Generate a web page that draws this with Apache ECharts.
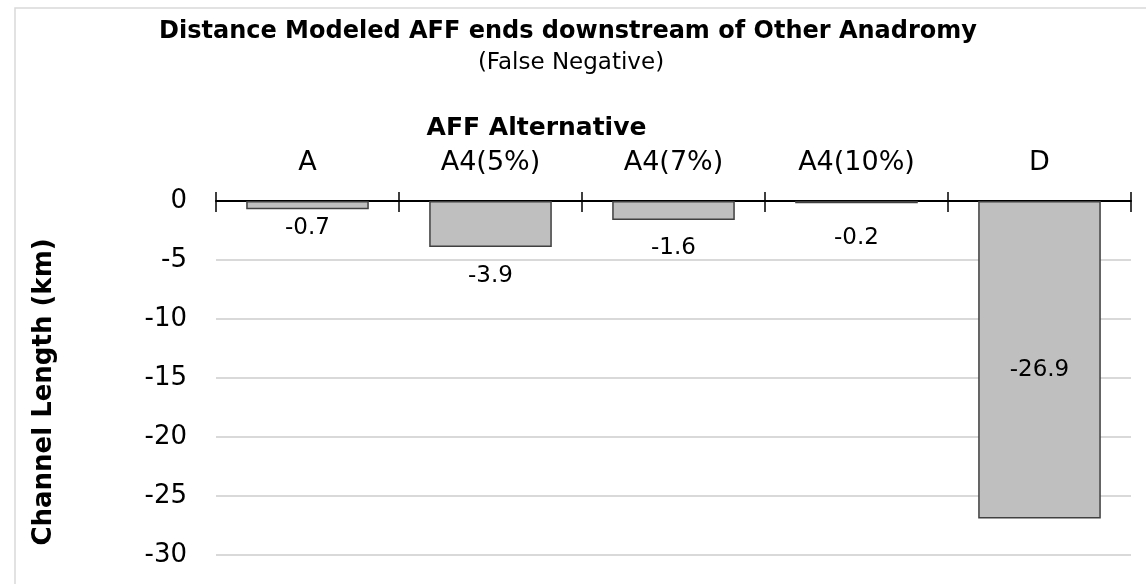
<!DOCTYPE html>
<html><head><meta charset="utf-8">
<script src="https://cdn.jsdelivr.net/npm/echarts@6/dist/echarts.min.js"></script>
<style>html,body{margin:0;padding:0;background:#fff}#c{width:1146px;height:584px}</style>
</head><body><div id="c"></div>
<script>
const categories = ['A', 'A4(5%)', 'A4(7%)', 'A4(10%)', 'D'];
const values = [-0.7, -3.9, -1.6, -0.2, -26.9];
const yTicks = [0, -5, -10, -15, -20, -25, -30];

const FONT = 'DejaVu Sans, sans-serif';
const chart = echarts.init(document.getElementById('c'));
const labelDist = [7, 18, 17, 23];
const dataItems = values.map((v, i) => {
  if (i === values.length - 1) {
    return { value: v, label: { position: 'inside', offset: [0, 10] } };
  }
  return { value: v, label: { position: 'bottom', distance: labelDist[i] } };
});
chart.setOption({
  animation: false,
  textStyle: { fontFamily: FONT },
  title: [
    { text: 'Distance Modeled AFF ends downstream of Other Anadromy', left: 563, top: 15, textAlign: 'center',
      textStyle: { fontFamily: FONT, fontWeight: 'bold', fontSize: 24, color: '#000' } },
    { text: '(False Negative)', left: 566, top: 47, textAlign: 'center',
      textStyle: { fontFamily: FONT, fontWeight: 'normal', fontSize: 23, color: '#000' } }
  ],
  graphic: [
    { type: 'rect', shape: { x: 15, y: 8, width: 1140, height: 590 }, style: { fill: 'none', stroke: '#d9d9d9', lineWidth: 1.5 } }
  ],
  grid: { left: 216, right: 15, top: 201, bottom: 29 },
  xAxis: [
    { type: 'category', data: categories, position: 'top',
      name: 'AFF Alternative', nameLocation: 'middle', nameGap: 60,
      nameTextStyle: { fontFamily: FONT, fontWeight: 'bold', fontSize: 25, color: '#000', padding: [0, 274, 0, 0] },
      axisLine: { lineStyle: { color: '#000', width: 2 } },
      axisTick: { show: true, length: 9, lineStyle: { color: '#000', width: 1.5 } },
      axisLabel: { fontFamily: FONT, fontSize: 27, color: '#000', margin: 25 } },
    { type: 'category', data: categories, position: 'top',
      axisLine: { show: false },
      axisTick: { show: true, inside: true, length: 11, lineStyle: { color: '#000', width: 1.5 } },
      axisLabel: { show: false } }
  ],
  yAxis: {
    type: 'value', min: -30, max: 0, interval: 5,
    name: 'Channel Length (km)', nameLocation: 'middle', nameGap: 159,
    nameTextStyle: { fontFamily: FONT, fontWeight: 'bold', fontSize: 26, color: '#000', padding: [0, 28, 0, 0] },
    axisLine: { show: false }, axisTick: { show: false },
    axisLabel: { fontFamily: FONT, fontSize: 26, color: '#000', margin: 29 },
    splitLine: { lineStyle: { color: '#d9d9d9', width: 2 } }
  },
  series: [{
    type: 'bar', data: dataItems, barWidth: '67%',
    itemStyle: { color: '#bfbfbf', borderColor: '#404040', borderWidth: 1.5 },
    label: { show: true, fontFamily: FONT, fontSize: 23, color: '#000', formatter: p => p.value.toFixed(1) }
  }]
});
</script></body></html>
